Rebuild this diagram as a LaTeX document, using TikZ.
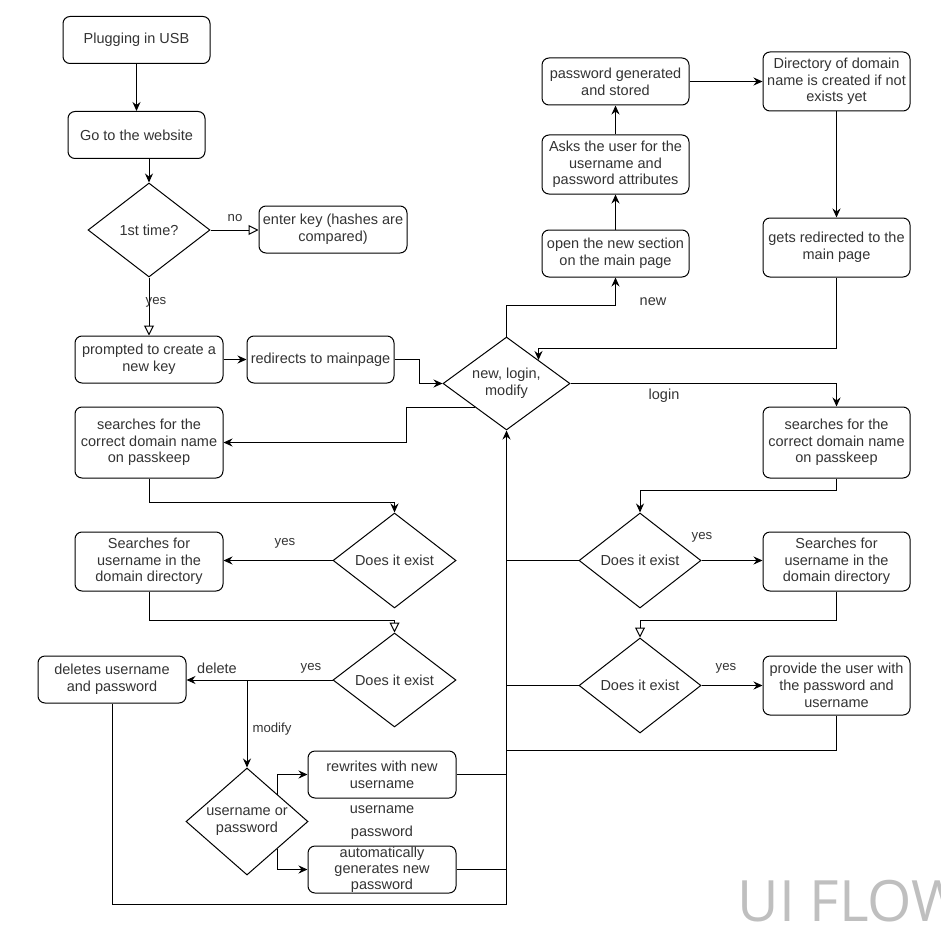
\documentclass[tikz,border=0pt]{standalone}
\usepackage{fontspec}
\setmainfont{Liberation Sans}
\newfontfamily\titlefont{Open Sans}
\usetikzlibrary{shapes.geometric,arrows.meta,calc}

\begin{document}
\begin{tikzpicture}[x=1pt, y=-1pt, line width=1pt,
    box/.style={draw, rounded corners=7pt, align=center, minimum width=147pt,
      minimum height=47pt, inner sep=1pt, text=black!80,
      font=\fontsize{14.5}{16.7}\selectfont},
    decision/.style={draw, diamond, aspect=1.3, inner sep=0pt, align=center,
      minimum width=122pt, minimum height=94pt, text=black!80,
      font=\fontsize{14.5}{16.7}\selectfont},
    arr/.style={-{Stealth[length=9pt,width=8pt,inset=3pt]}},
    oarr/.style={-{Triangle[open,length=10pt,width=10pt]}},
    lbl/.style={inner sep=0pt, text=black!80, font=\fontsize{13.2}{15}\selectfont},
    biglbl/.style={inner sep=0pt, text=black!80, font=\fontsize{14.5}{16.7}\selectfont}]
  % Page frame (pixel coordinates, y downwards)
  \useasboundingbox (0,0) rectangle (941,928);

  % Start of the flow
  \node[box] (usb) at (136.5,40) {Plugging in USB};
  \node[box, minimum width=137pt] (web) at (136.5,135) {Go to the website};
  \node[decision] (first) at (149,230) {1st time?};
  \node[box, minimum width=148pt] (key) at (333,229.5) {enter key (hashes are\\compared)};
  \node[box, minimum width=148pt] (prompt) at (149,359.5) {prompted to create a\\new key};
  \node[box] (redir) at (320.5,359.5) {redirects to mainpage};
  \node[decision, minimum width=127pt, minimum height=93pt] (hub) at (506.5,383.5) {new, login,\\modify};

  % "new" branch
  \node[box] (opensec) at (615.5,253.5) {open the new section\\on the main page};
  \node[box, minimum height=59pt] (asks) at (615.5,164.5) {Asks the user for the\\username and\\password attributes};
  \node[box] (pwgen) at (615.5,81.5) {password generated\\and stored};
  \node[box, minimum height=59pt] (dir) at (836.5,81.5) {Directory of domain\\name is created if not\\exists yet};
  \node[box, minimum height=59pt] (back) at (836.5,247.5) {gets redirected to the\\main page};

  % "login" branch
  \node[box, minimum height=71pt] (rsearch) at (836.5,442.5) {searches for the\\correct domain name\\on passkeep};
  \node[decision, minimum height=95pt] (rdomain) at (640,560.5) {Does it exist};
  \node[box, minimum height=59pt] (ruser) at (836.5,561.5) {Searches for\\username in the\\domain directory};
  \node[decision, minimum height=95pt] (rname) at (640,685.5) {Does it exist};
  \node[box, minimum height=59pt] (provide) at (836.5,685.5) {provide the user with\\the password and\\username};

  % "modify" branch
  \node[box, minimum width=148pt, minimum height=71pt] (lsearch) at (149,442.5) {searches for the\\correct domain name\\on passkeep};
  \node[decision, minimum width=123pt, minimum height=95pt] (ldomain) at (394.5,560.5) {Does it exist};
  \node[box, minimum width=148pt, minimum height=59pt] (luser) at (149,561.5) {Searches for\\username in the\\domain directory};
  \node[decision, minimum width=123pt] (lname) at (394.5,680) {Does it exist};
  \node[box, minimum width=148pt] (delete) at (112,679.5) {deletes username\\and password};
  \node[decision, minimum height=107pt] (uorp) at (247,821.5) {username or\\password};
  \node[box, minimum width=148pt] (rewrite) at (382,774.5) {rewrites with new\\username};
  \node[box, minimum width=148pt, inner sep=0pt, font=\fontsize{14.5}{16.2}\selectfont] (autogen) at (382,869.5) {automatically\\generates new\\password};

  % Connectors of the start
  \draw[arr] (usb) -- (web);
  \draw[arr] (first.north |- web.south) -- (first.north);
  \draw[oarr] (first.east) -- (first.east -| key.west);
  \draw[oarr] (first.south) -- (prompt.north);
  \draw[arr] (prompt) -- (redir);
  \draw[arr] (redir.east) -- ++(25,0) |- (hub.west);

  % Connectors of "new"
  \draw[arr] (hub.north) -- ++(0,-31) -| (opensec.south);
  \draw[arr] (opensec) -- (asks);
  \draw[arr] (asks) -- (pwgen);
  \draw[arr] (pwgen.east) -- (pwgen.east -| dir.west);
  \draw[arr] (dir) -- (back);
  \coordinate (hubin) at ($(hub.north)!0.5!(hub.east)$);
  \draw[arr] (back.south) -- ++(0,71) -| (hubin);

  % Connectors of "login"
  \draw[arr] (hub.east) -| (rsearch.north);
  \draw[arr] (rsearch.south) -- ++(0,12) -| (rdomain.north);
  \draw[arr] (rdomain.east) -- (rdomain.east -| ruser.west);
  \draw[oarr] (ruser.south) -- ++(0,29) -| (rname.north);
  \draw[arr] (rname.east) -- (rname.east -| provide.west);

  % Connectors of "modify"
  \coordinate (hubout) at ($(hub.west)!0.5!(hub.south)$);
  \draw[arr] (hubout) -- ++(-68,0) |- (lsearch.east);
  \draw[arr] (lsearch.south) -- ++(0,24) -| (ldomain.north);
  \draw[arr] (ldomain.west) -- (ldomain.west -| luser.east);
  \draw[oarr] (luser.south) -- ++(0,29) -| (lname.north);
  \draw[arr] (lname.west) -- (lname.west -| delete.east);
  \draw[arr] (lname.west -| uorp.north) -- (uorp.north);
  \draw[arr] ($(uorp.north)!0.5!(uorp.east)$) |- (rewrite.west);
  \draw[arr] ($(uorp.south)!0.5!(uorp.east)$) |- (autogen.west);

  % Everything returns to the hub
  \coordinate (trunk) at (hub.south |- 0,904);
  \draw[arr] (delete.south) |- (trunk) -- (hub.south);
  \draw (rdomain.west) -- (rdomain.west -| trunk);
  \draw (rname.west) -- (rname.west -| trunk);
  \draw (provide.south) |- (trunk |- 0,750);
  \draw (rewrite.east) -- (rewrite.east -| trunk);
  \draw (autogen.east) -- (autogen.east -| trunk);

  % Edge labels
  \node[lbl] (lno) at (235,218) {no};
  \node[lbl] (lyes) at (156,302) {yes};
  \node[biglbl] (lnew) at (653,302) {new};
  \node[biglbl] (llogin) at (664,396) {login};
  \node[lbl] (lyesa) at (285,543) {yes};
  \node[lbl] (lyesb) at (702,537) {yes};
  \node[lbl] (lyesc) at (311,668) {yes};
  \node[biglbl] (ldel) at (217,668) {delete};
  \node[lbl] (lyesd) at (726,668) {yes};
  \node[lbl] (lmod) at (272,729) {modify};
  \node[biglbl] (luname) at (382,810) {username};
  \node[biglbl] (lpword) at (382,833) {password};

  % Title
  \node[anchor=base west, inner sep=0pt, text=black!25,
    font=\titlefont\fontsize{57}{64}\selectfont] (title) at (737,921) {UI FLOW};
\end{tikzpicture}
\end{document}
